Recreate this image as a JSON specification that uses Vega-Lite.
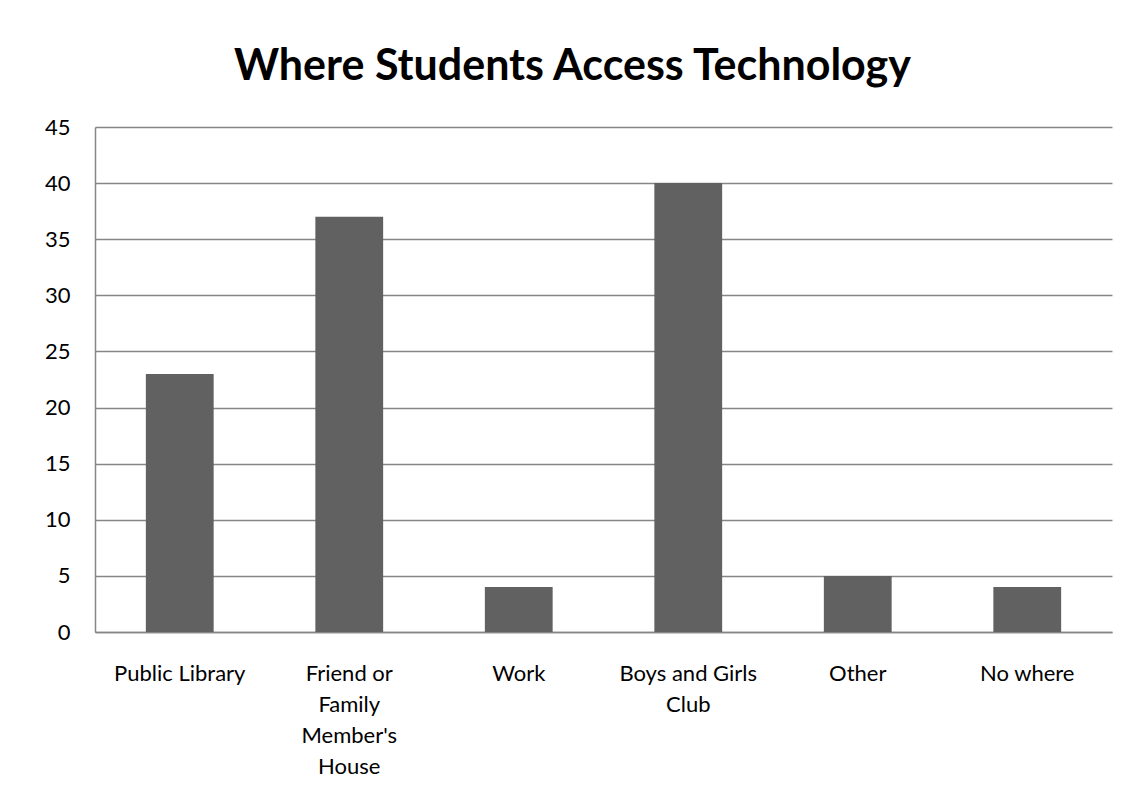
{
  "$schema": "https://vega.github.io/schema/vega-lite/v6.json",
  "autosize": "none",
  "width": 1017,
  "height": 505,
  "padding": {"left": 95, "top": 127, "right": 32, "bottom": 175},
  "background": "white",
  "title": {
    "text": "Where Students Access Technology",
    "font": "Lato",
    "fontSize": 43,
    "fontWeight": "bold",
    "color": "#000000",
    "anchor": "middle",
    "dx": -31,
    "offset": 27
  },
  "data": {
    "values": [
      {"place": "Public Library", "count": 23},
      {"place": "Friend or Family Member's House", "count": 37},
      {"place": "Work", "count": 4},
      {"place": "Boys and Girls Club", "count": 40},
      {"place": "Other", "count": 5},
      {"place": "No where", "count": 4}
    ]
  },
  "mark": {"type": "bar", "color": "#616161"},
  "encoding": {
    "x": {
      "field": "place",
      "type": "nominal",
      "sort": null,
      "scale": {"paddingInner": 0.6, "paddingOuter": 0.3},
      "axis": {
        "title": null,
        "labelAngle": 0,
        "labelFont": "Lato",
        "labelFontSize": 22,
        "labelColor": "#000000",
        "labelLineHeight": 31,
        "labelPadding": 31,
        "labelBaseline": "top",
        "labelLimit": 300,
        "ticks": false,
        "domainColor": "#868686",
        "domainWidth": 1.5,
        "labelExpr": "datum.label == \"Friend or Family Member's House\" ? ['Friend or', 'Family', \"Member's\", 'House'] : datum.label == 'Boys and Girls Club' ? ['Boys and Girls', 'Club'] : datum.label"
      }
    },
    "y": {
      "field": "count",
      "type": "quantitative",
      "scale": {"domain": [0, 45]},
      "axis": {
        "title": null,
        "values": [0, 5, 10, 15, 20, 25, 30, 35, 40, 45],
        "labelFont": "Lato",
        "labelFontSize": 22,
        "labelColor": "#000000",
        "labelPadding": 25,
        "ticks": false,
        "domainColor": "#868686",
        "domainWidth": 1.5,
        "grid": true,
        "gridColor": "#868686",
        "gridWidth": 1.5
      }
    }
  },
  "config": {"view": {"stroke": null}}
}
